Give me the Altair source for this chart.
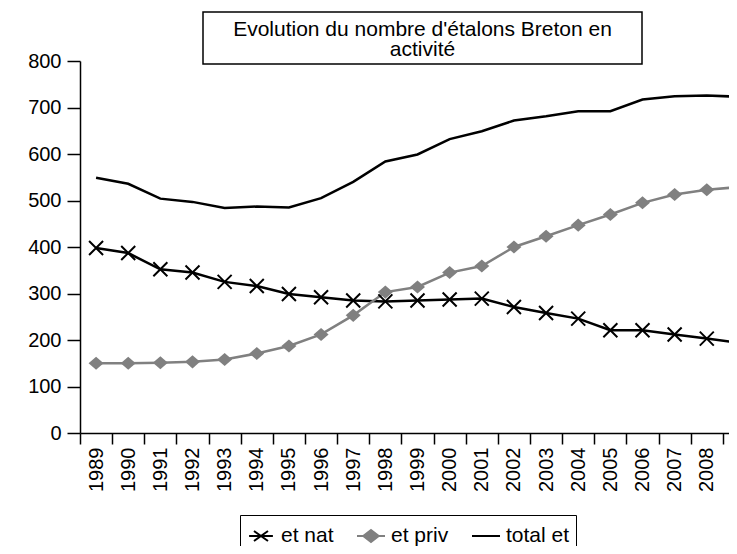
import altair as alt
import pandas as pd

YEARS = ["1989", "1990", "1991", "1992", "1993", "1994", "1995", "1996", "1997", "1998", "1999",
         "2000", "2001", "2002", "2003", "2004", "2005", "2006", "2007", "2008", "2009"]
ET_NAT = [398, 387, 352, 345, 325, 316, 299, 292, 285, 283, 285,
          287, 289, 271, 258, 246, 221, 221, 212, 203, 194]
ET_PRIV = [150, 150, 151, 153, 158, 171, 187, 212, 253, 303, 314,
           345, 359, 400, 423, 447, 470, 495, 513, 523, 529]
TOTAL_ET = [549, 536, 504, 497, 484, 487, 485, 505, 540, 584, 599,
            632, 649, 672, 681, 692, 692, 717, 724, 726, 723]
SERIES = ["et nat", "et priv", "total et"]
SERIES_COLORS = ["#000000", "#808080", "#000000"]
TITLE_LINES = ["Evolution du nombre d'étalons Breton en", "activité"]
Y_TICKS = [0, 100, 200, 300, 400, 500, 600, 700, 800]

FONT = "Liberation Sans"

rows = []
for name, vals in zip(SERIES, [ET_NAT, ET_PRIV, TOTAL_ET]):
    for yr, v in zip(YEARS, vals):
        rows.append({"annee": yr, "valeur": v, "serie": name})
df = pd.DataFrame(rows)

X_PATH = "M-1,-1L1,1M-1,1L1,-1"
DIAMOND_PATH = "M0,-0.87L1,0L0,0.87L-1,0Z"
LEG_PATHS = [
    "M-0.85,0L0.85,0M-0.5,-0.36L0.5,0.36M-0.5,0.36L0.5,-0.36",
    "M-1,0L1,0M0,-0.42L0.55,0L0,0.42L-0.55,0Z",
    "M-1,0L1,0",
]

x_enc = alt.X(
    "annee:O",
    bandPosition=0.5,
    scale=alt.Scale(type="band", domain=YEARS, paddingInner=0, paddingOuter=0, range=[0, 675]),
    axis=alt.Axis(
        title=None, labelAngle=270, tickBand="extent", labelFont=FONT,
        labelFontSize=20, labelColor="black", tickSize=11, tickColor="black",
        tickWidth=1.5, domainColor="black", domainWidth=1.5, labelPadding=3,
        grid=False,
    ),
)
y_enc = alt.Y(
    "valeur:Q",
    scale=alt.Scale(domain=[0, 800], nice=False),
    axis=alt.Axis(
        title=None, values=Y_TICKS, labelFont=FONT, labelFontSize=20,
        labelColor="black", tickSize=13, tickColor="black", tickWidth=1.5,
        domainColor="black", domainWidth=1.5, labelPadding=6, grid=False,
    ),
)

base = alt.Chart(df).encode(x=x_enc, y=y_enc)

line_layers = [
    base.transform_filter(alt.datum.serie == name).mark_line(strokeWidth=2.5, color=col)
    for name, col in zip(SERIES, SERIES_COLORS)
]

nat_pts = base.transform_filter(alt.datum.serie == "et nat").mark_point(
    shape=X_PATH, size=196, filled=False, stroke="black", strokeWidth=2, opacity=1
)
priv_pts = base.transform_filter(alt.datum.serie == "et priv").mark_point(
    shape=DIAMOND_PATH, size=225, filled=True, fill="#808080", strokeWidth=0, opacity=1
)

leg = alt.Legend(
    title=None, orient="none", legendX=160, legendY=454, direction="horizontal",
    strokeColor="black", fillColor="white", padding=6, symbolSize=784,
    symbolStrokeWidth=2, symbolOpacity=1, symbolFillColor="#808080",
    labelFont=FONT, labelFontSize=21,
    labelColor="black", labelOffset=5, columnPadding=19,
)
legend_layer = base.mark_point(filled=True, fill="#808080", opacity=0, strokeWidth=2).encode(
    shape=alt.Shape("serie:N", scale=alt.Scale(domain=SERIES, range=LEG_PATHS), legend=leg),
    stroke=alt.Stroke("serie:N", scale=alt.Scale(domain=SERIES, range=SERIES_COLORS), legend=leg),
)

title_df = pd.DataFrame({"t": ["\n".join(TITLE_LINES)]})
title_box = alt.Chart(title_df).mark_rect(fill="white", stroke="black", strokeWidth=1.5).encode(
    x=alt.value(123), x2=alt.value(562), y=alt.value(-49), y2=alt.value(3)
)
title_text = alt.Chart(title_df).mark_text(
    lineBreak="\n", font=FONT, fontSize=21, align="center", baseline="alphabetic",
    lineHeight=20, color="black",
).encode(text="t:N", x=alt.value(342.5), y=alt.value(-25.5))

chart = alt.layer(title_box, title_text, *line_layers, nat_pts, priv_pts, legend_layer).properties(
    width=649, height=372, autosize="none",
    padding={"left": 72, "top": 53, "right": 0, "bottom": 113},
    background="white",
).configure_view(stroke=None)

chart.save("out.html", embed_options={"renderer": "svg", "actions": False})
